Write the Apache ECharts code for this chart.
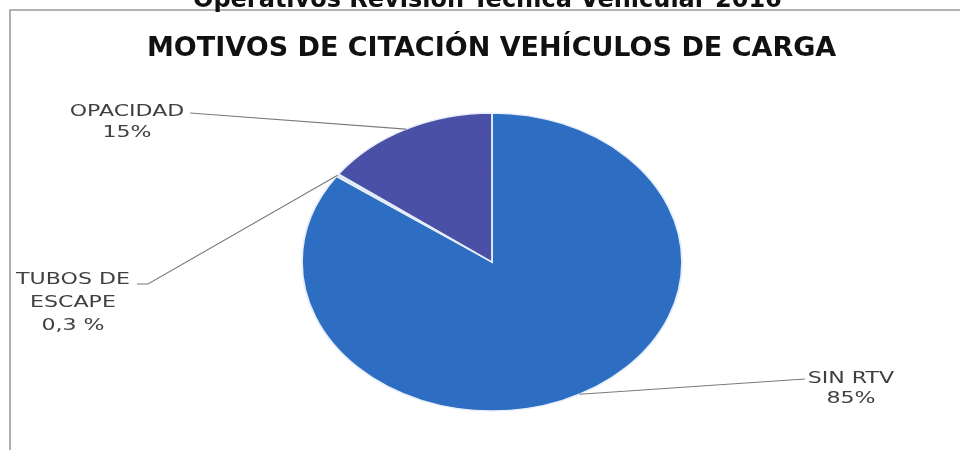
<!DOCTYPE html>
<html>
<head>
<meta charset="utf-8">
<script src="https://cdn.jsdelivr.net/npm/echarts@6/dist/echarts.min.js"></script>
<style>
  html, body { margin: 0; padding: 0; background: #ffffff; }
  #chart { width: 960px; height: 450px; }
</style>
</head>
<body>
<div id="chart"></div>
<script>
// ---- data ----
const categories = ['SIN RTV', 'TUBOS DE\nESCAPE', 'OPACIDAD'];
const values = [85, 0.3, 15];
const valueLabels = ['85%', '0,3 %', '15%'];
const mainTitle = 'MOTIVOS DE CITACIÓN VEHÍCULOS DE CARGA';
const pageTitle = 'Operativos Revisión Técnica Vehicular 2016';

// ---- styles / layout (not data) ----
const sliceColors = ['#2d6ec3', '#dde6f2', '#4a50a5'];
const PIE = { cx: 492, cy: 262, rx: 190, ry: 149 };
const LABEL_LAYOUT = [
  { line: [[313, 117]], text: [359, 127], lh: 20 },
  { line: [[-344, 22], [-355, 22]], text: [-419, 41], lh: 23 },
  { line: [[-302, -149]], text: [-365, -140], lh: 21 }
];
const TEXT_STRETCH = 1.38;

const total = values.reduce((a, b) => a + b, 0);

function renderItem(params, api) {
  const i = params.dataIndex;
  const cx = PIE.cx, cy = PIE.cy;
  let cum = 0;
  for (let j = 0; j < i; j++) cum += values[j];
  const a0 = -Math.PI / 2 + 2 * Math.PI * cum / total;
  const a1 = a0 + 2 * Math.PI * api.value(0) / total;
  const am = (a0 + a1) / 2;
  const ex = cx + PIE.rx * Math.cos(am);
  const ey = cy + PIE.ry * Math.sin(am);
  const L = LABEL_LAYOUT[i];
  const pts = [[ex, ey]].concat(L.line.map(p => [cx + p[0], cy + p[1]]));
  const tx = cx + L.text[0], ty = cy + L.text[1];
  return {
    type: 'group',
    children: [
      {
        type: 'sector',
        shape: { cx: cx, cy: cy, r0: 0, r: PIE.ry, startAngle: a0, endAngle: a1, clockwise: true },
        scaleX: PIE.rx / PIE.ry,
        originX: cx,
        originY: cy,
        style: { fill: sliceColors[i], stroke: '#e6eef9', lineWidth: 1.4 }
      },
      {
        type: 'polyline',
        shape: { points: pts },
        style: { stroke: '#7a7a7a', lineWidth: 1.1, fill: null }
      },
      {
        type: 'text',
        x: tx,
        y: ty,
        scaleX: TEXT_STRETCH,
        originX: 0,
        originY: 0,
        style: {
          text: categories[i] + '\n' + valueLabels[i],
          fill: '#404040',
          font: '16px "DejaVu Sans"',
          align: 'center',
          verticalAlign: 'middle',
          lineHeight: L.lh
        }
      }
    ]
  };
}

const chart = echarts.init(document.getElementById('chart'), null, { renderer: 'canvas' });
chart.setOption({
  backgroundColor: '#ffffff',
  animation: false,
  title: [
    {
      text: pageTitle,
      left: 188,
      top: -16,
      textStyle: { fontFamily: 'DejaVu Sans', fontWeight: 'bold', fontSize: 24, color: '#111111' }
    },
    {
      text: mainTitle,
      left: 142,
      top: 30,
      textStyle: { fontFamily: 'DejaVu Sans', fontWeight: 'bold', fontSize: 27, color: '#111111' }
    }
  ],
  graphic: [
    {
      type: 'rect',
      z: -10,
      shape: { x: 10, y: 10, width: 1000, height: 500 },
      style: { fill: '#ffffff', stroke: '#9a9a9a', lineWidth: 1.6 }
    }
  ],
  series: [
    {
      type: 'custom',
      coordinateSystem: 'none',
      renderItem: renderItem,
      data: values.map((v, k) => ({ name: categories[k], value: [v] }))
    }
  ]
});
</script>
</body>
</html>
